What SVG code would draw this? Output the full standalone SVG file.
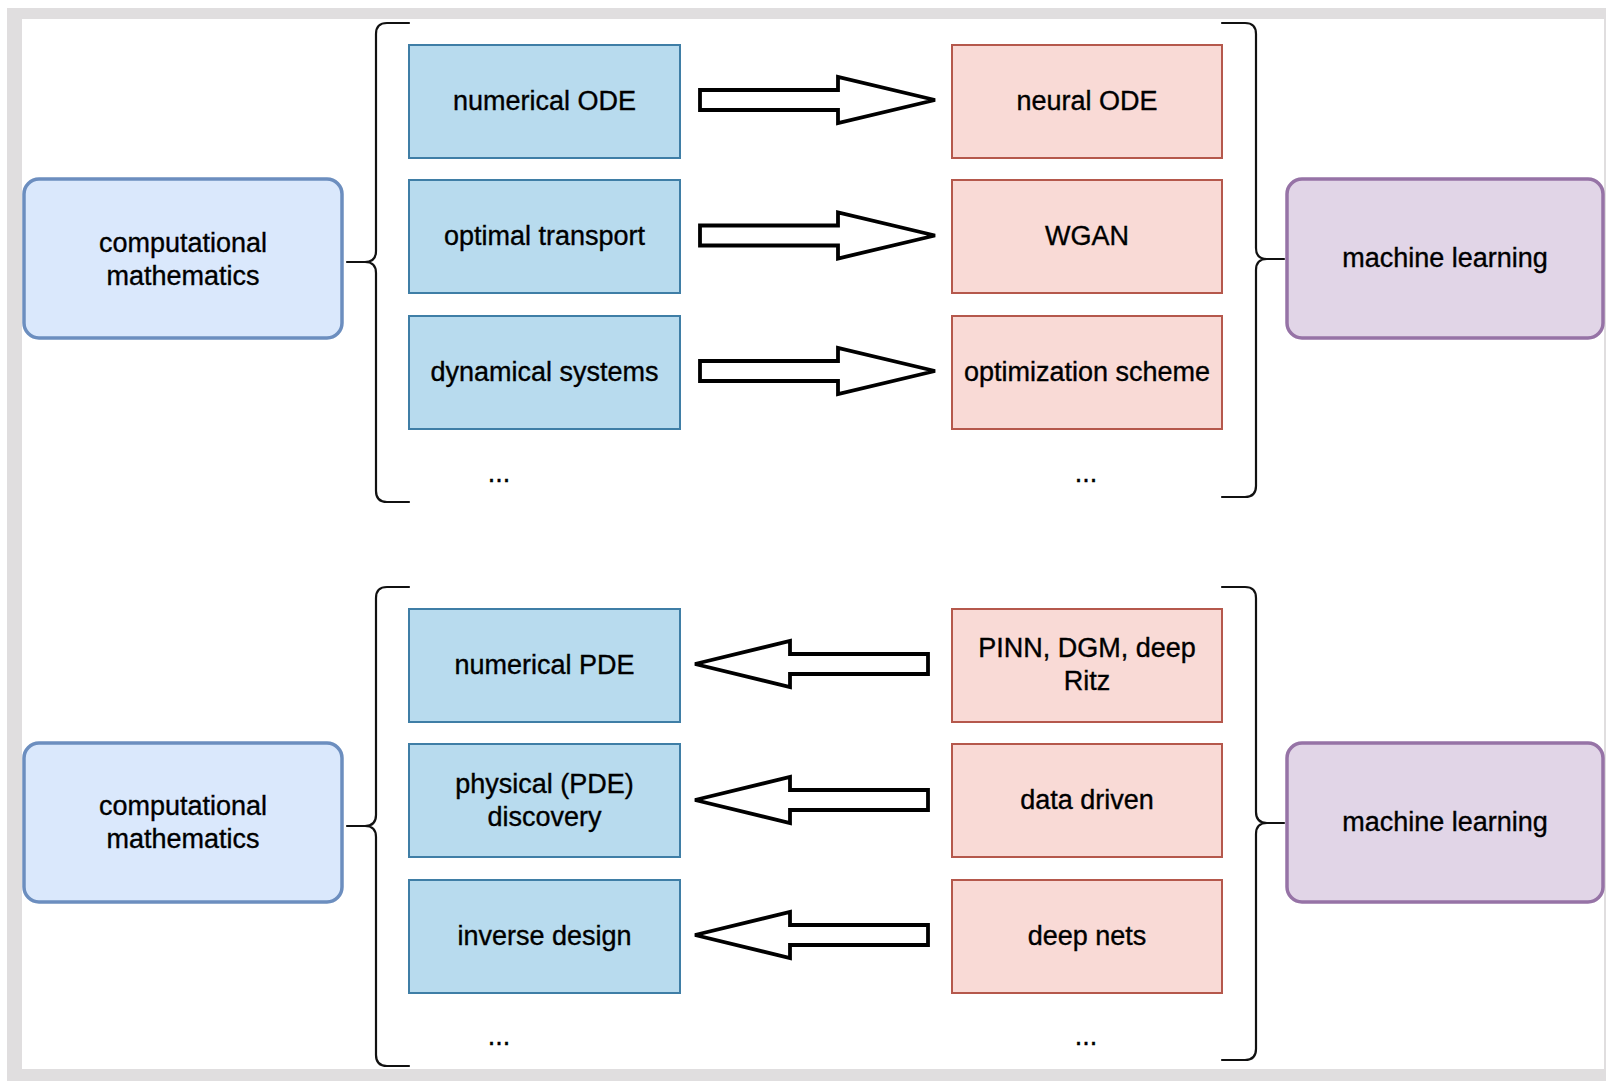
<svg xmlns="http://www.w3.org/2000/svg" width="1606" height="1081" viewBox="0 0 1606 1081">
  <defs>
    <style>
      text { font-family: "Liberation Sans", Arial, Helvetica, sans-serif; font-size: 27px; fill: #000000; stroke: #000000; stroke-width: 0.35; text-anchor: middle; }
      .math { fill: #dae8fc; stroke: #6c8ebf; stroke-width: 3.5; }
      .ml { fill: #e1d5e7; stroke: #9673a6; stroke-width: 3.5; }
      .blue { fill: #b8dbee; stroke: #3f7ea6; stroke-width: 2; }
      .red { fill: #f9dad6; stroke: #b5584c; stroke-width: 2; }
      .brace { fill: none; stroke: #111111; stroke-width: 2.2; stroke-linecap: round; }
      .arrow { fill: #ffffff; stroke: #000000; stroke-width: 3.8; stroke-linejoin: miter; }
    </style>
    <!-- block arrows drawn around the origin, pointing right / left -->
    <polygon id="arrowR" class="arrow" points="-117,-10 21,-10 21,-23 118,0 21,23 21,10 -117,10"/>
    <polygon id="arrowL" class="arrow" points="118,-10 -20,-10 -20,-23 -115,0 -20,23 -20,10 118,10"/>
  </defs>

  <!-- page frame -->
  <rect x="0" y="0" width="1606" height="1081" fill="#ffffff"/>
  <rect x="7" y="8" width="1599" height="1073" fill="#e0dedf"/>
  <rect x="22" y="19" width="1582" height="1050" fill="#ffffff"/>

  <!-- ===== upper block: computational mathematics -> machine learning ===== -->
  <g id="cm-top">
    <rect class="math" x="24" y="179" width="318" height="159" rx="15"/>
    <text x="183" y="252">computational</text>
    <text x="183" y="285">mathematics</text>
  </g>
  <g id="ml-top">
    <rect class="ml" x="1287" y="179" width="316" height="159" rx="15"/>
    <text x="1445" y="267">machine learning</text>
  </g>

  <g id="numerical-ode">
    <rect class="blue" x="409" y="45" width="271" height="113"/>
    <text x="544.5" y="110">numerical ODE</text>
  </g>
  <g id="optimal-transport">
    <rect class="blue" x="409" y="180" width="271" height="113"/>
    <text x="544.5" y="245">optimal transport</text>
  </g>
  <g id="dynamical-systems">
    <rect class="blue" x="409" y="316" width="271" height="113"/>
    <text x="544.5" y="381">dynamical systems</text>
  </g>
  <g id="more-math-top">
    <text x="499" y="482">...</text>
  </g>

  <g id="neural-ode">
    <rect class="red" x="952" y="45" width="270" height="113"/>
    <text x="1087" y="110">neural ODE</text>
  </g>
  <g id="wgan">
    <rect class="red" x="952" y="180" width="270" height="113"/>
    <text x="1087" y="245">WGAN</text>
  </g>
  <g id="optimization-scheme">
    <rect class="red" x="952" y="316" width="270" height="113"/>
    <text x="1087" y="381">optimization scheme</text>
  </g>
  <g id="more-ml-top">
    <text x="1086" y="482">...</text>
  </g>

  <!-- ===== lower block: machine learning -> computational mathematics ===== -->
  <g id="cm-bottom">
    <rect class="math" x="24" y="743" width="318" height="159" rx="15"/>
    <text x="183" y="815">computational</text>
    <text x="183" y="848">mathematics</text>
  </g>
  <g id="ml-bottom">
    <rect class="ml" x="1287" y="743" width="316" height="159" rx="15"/>
    <text x="1445" y="831">machine learning</text>
  </g>

  <g id="numerical-pde">
    <rect class="blue" x="409" y="609" width="271" height="113"/>
    <text x="544.5" y="674">numerical PDE</text>
  </g>
  <g id="physical-discovery">
    <rect class="blue" x="409" y="744" width="271" height="113"/>
    <text x="544.5" y="793">physical (PDE)</text>
    <text x="544.5" y="826">discovery</text>
  </g>
  <g id="inverse-design">
    <rect class="blue" x="409" y="880" width="271" height="113"/>
    <text x="544.5" y="945">inverse design</text>
  </g>
  <g id="more-math-bottom">
    <text x="499" y="1045">...</text>
  </g>

  <g id="pinn-dgm-ritz">
    <rect class="red" x="952" y="609" width="270" height="113"/>
    <text x="1087" y="657">PINN, DGM, deep</text>
    <text x="1087" y="690">Ritz</text>
  </g>
  <g id="data-driven">
    <rect class="red" x="952" y="744" width="270" height="113"/>
    <text x="1087" y="809">data driven</text>
  </g>
  <g id="deep-nets">
    <rect class="red" x="952" y="880" width="270" height="113"/>
    <text x="1087" y="945">deep nets</text>
  </g>
  <g id="more-ml-bottom">
    <text x="1086" y="1045">...</text>
  </g>

  <!-- connectors: curly braces and block arrows -->
  <g id="connectors">
    <path class="brace" d="M409,23 H387 Q376,23 376,34 V251 Q376,262 365,262 H347 M365,262 Q376,262 376,273 V491 Q376,502 387,502 H409"/>
    <path class="brace" d="M1222,23 H1245 Q1256,23 1256,34 V248 Q1256,259 1267,259 H1284 M1267,259 Q1256,259 1256,270 V486 Q1256,497 1245,497 H1222"/>
    <path class="brace" d="M409,587 H387 Q376,587 376,598 V815 Q376,826 365,826 H347 M365,826 Q376,826 376,837 V1055 Q376,1066 387,1066 H409"/>
    <path class="brace" d="M1222,587 H1245 Q1256,587 1256,598 V812 Q1256,823 1267,823 H1284 M1267,823 Q1256,823 1256,834 V1049 Q1256,1060 1245,1060 H1222"/>

    <use href="#arrowR" x="817" y="100"/>
    <use href="#arrowR" x="817" y="235.5"/>
    <use href="#arrowR" x="817" y="371"/>

    <use href="#arrowL" x="810" y="664"/>
    <use href="#arrowL" x="810" y="800"/>
    <use href="#arrowL" x="810" y="935"/>
  </g>
</svg>
